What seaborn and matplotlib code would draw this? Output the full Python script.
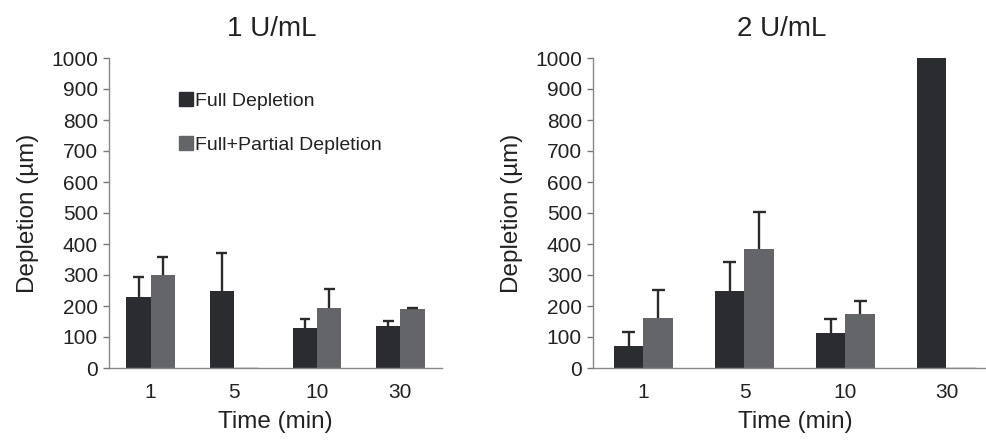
import numpy as np
import pandas as pd
import matplotlib
matplotlib.use("Agg")
import matplotlib.pyplot as plt
from matplotlib.lines import Line2D
import seaborn as sns

times = ["1", "5", "10", "30"]
series = ["Full Depletion", "Full+Partial Depletion"]
panels = ["1 U/mL", "2 U/mL"]

full_1u = [230, 250, 130, 137]
full_1u_err = [63, 122, 27, 16]
partial_1u = [300, 0, 195, 190]
partial_1u_err = [57, 0, 61, 5]

full_2u = [70, 247, 113, 1000]
full_2u_err = [47, 95, 44, 0]
partial_2u = [160, 383, 173, 0]
partial_2u_err = [93, 119, 44, 0]

yticks = list(range(0, 1001, 100))

dark = "#2a2c2f"
grey = "#646568"
palette = {series[0]: dark, series[1]: grey}

sns.set_style("white")
plt.rcParams["font.family"] = ["Liberation Sans", "DejaVu Sans"]

fig = plt.figure(figsize=(9.87, 4.43), dpi=100)
ax1 = fig.add_axes([109 / 987, 75 / 443, 333 / 987, 310 / 443])
ax2 = fig.add_axes([593 / 987, 75 / 443, 404 / 987, 310 / 443])

data = [
    (ax1, full_1u, full_1u_err, partial_1u, partial_1u_err, panels[0], 272),
    (ax2, full_2u, full_2u_err, partial_2u, partial_2u_err, panels[1], 782),
]

for ax, f, fe, p, pe, title, tx in data:
    df = pd.DataFrame({
        "Time": times * 2,
        "Series": [series[0]] * 4 + [series[1]] * 4,
        "Value": f + p,
        "Err": fe + pe,
    })
    sns.barplot(data=df, x="Time", y="Value", hue="Series", order=times,
                hue_order=series, palette=palette, width=0.58, ax=ax,
                errorbar=None, legend=False, saturation=1,
                edgecolor="none", linewidth=0)
    # error bars (upper only, cap at top)
    offsets = [-0.145, 0.145]
    for si, (vals, errs) in enumerate([(f, fe), (p, pe)]):
        xs = np.arange(len(times)) + offsets[si]
        for x, v, e in zip(xs, vals, errs):
            if e > 0:
                ax.vlines(x, v, v + e, color="#2a2a2a", lw=1.7, zorder=3)
                ax.hlines(v + e, x - 0.065, x + 0.065, color="#2a2a2a", lw=1.7, zorder=3)
            if v == 0:
                ax.hlines(1.0, x - 0.145, x + 0.145, color="#555555", lw=1.0)
    ax.set_xlim(-0.5, 3.5)
    ax.set_ylim(0, 1000)
    ax.set_yticks(yticks)
    ax.set_yticklabels([str(t) for t in yticks], fontsize=15, color="#222222")
    ax.set_xticks(range(len(times)))
    ax.set_xticklabels(times, fontsize=15, color="#222222")
    ax.set_xticks(np.arange(-0.5, 3.6, 1.0), minor=True)
    ax.tick_params(axis="x", which="major", length=0, pad=11)
    ax.tick_params(axis="x", which="minor", length=5, width=1, color="#777777", direction="out")
    ax.tick_params(axis="y", length=4, width=1, color="#777777", direction="out", pad=4, left=True)
    for s in ["top", "right"]:
        ax.spines[s].set_visible(False)
    for s in ["left", "bottom"]:
        ax.spines[s].set_color("#888888")
        ax.spines[s].set_linewidth(1.0)
    ax.set_xlabel("Time (min)", fontsize=17.5, color="#222222", labelpad=6)
    ax.set_ylabel("Depletion (µm)", fontsize=17.5, color="#222222", labelpad=9)
    fig.text(tx / 987, 1 - 29 / 443, title, fontsize=20, ha="center", va="center",
             color="#222222")

handles = [Line2D([0], [0], marker="s", linestyle="none", markersize=10,
                  markerfacecolor=dark, markeredgecolor=dark),
           Line2D([0], [0], marker="s", linestyle="none", markersize=10,
                  markerfacecolor=grey, markeredgecolor=grey)]
leg = ax1.legend(handles, series, loc="upper left", bbox_to_anchor=(0.19, 0.915),
                 frameon=False, fontsize=14, handlelength=0.6, handletextpad=0.15,
                 labelspacing=1.35, borderaxespad=0)
for t in leg.get_texts():
    t.set_color("#222222")

fig.savefig("out.png", dpi=100)
